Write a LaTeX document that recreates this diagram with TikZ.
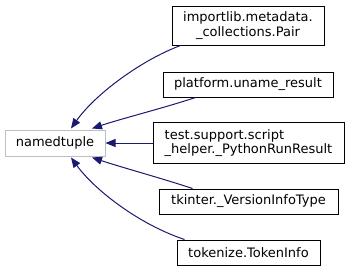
\documentclass[tikz,border=0pt]{standalone}
\usepackage{fontspec}
\setmainfont{DejaVu Sans}
\usetikzlibrary{arrows.meta,calc}
\definecolor{edgeblue}{HTML}{191970}
\definecolor{basegray}{HTML}{BFBFBF}
\begin{document}
\begin{tikzpicture}[x=1pt,y=-1pt,
  cls/.style={draw=black, line width=1pt, fill=white, inner sep=0pt,
    align=center, font=\fontsize{13}{14.5}\selectfont},
  base/.style={cls, draw=basegray},
  inh/.style={draw=edgeblue, line width=1pt,
    -{Triangle[length=10pt,width=8pt,fill=edgeblue]}},
]
\useasboundingbox (0,0) rectangle (349,271);

% base class
\node[base, minimum width=100pt, minimum height=26pt] (nt) at (55,143) {namedtuple};

% derived classes
\node[cls, minimum width=152pt, minimum height=39pt] (imp) at (248,25.5)
  {importlib.metadata.\\\_collections.Pair};
\node[cls, minimum width=170pt, minimum height=25pt] (plat) at (248,84.5)
  {platform.uname\_result};
\node[cls, align=left, minimum width=191pt, minimum height=41pt] (ts) at (248.5,143)
  {test.support.script\\\_helper.\_PythonRunResult};
\node[cls, minimum width=179pt, minimum height=25pt] (tk) at (248.5,201.5)
  {tkinter.\_VersionInfoType};
\node[cls, minimum width=143pt, minimum height=25pt] (tok) at (248.5,252.5)
  {tokenize.TokenInfo};

% inheritance arrows
\draw[inh] ($(imp.south west)+(9,0)$) .. controls +(-40,15) and +(24,-34) .. ($(nt.north)+(16,-1)$);
\draw[inh] ($(plat.south west)+(33,0)$) .. controls +(-30,10) and +(30,-10) .. ($(nt.north)+(37,-1)$);
\draw[inh] (ts.west) -- (nt.east);
\draw[inh] ($(tk.north west)+(34,0)$) .. controls +(-30,-10) and +(30,10) .. ($(nt.south)+(37,1)$);
\draw[inh] ($(tok.north west)+(8,0)$) .. controls +(-45,-15) and +(24,33) .. ($(nt.south)+(16,1)$);
\end{tikzpicture}
\end{document}
